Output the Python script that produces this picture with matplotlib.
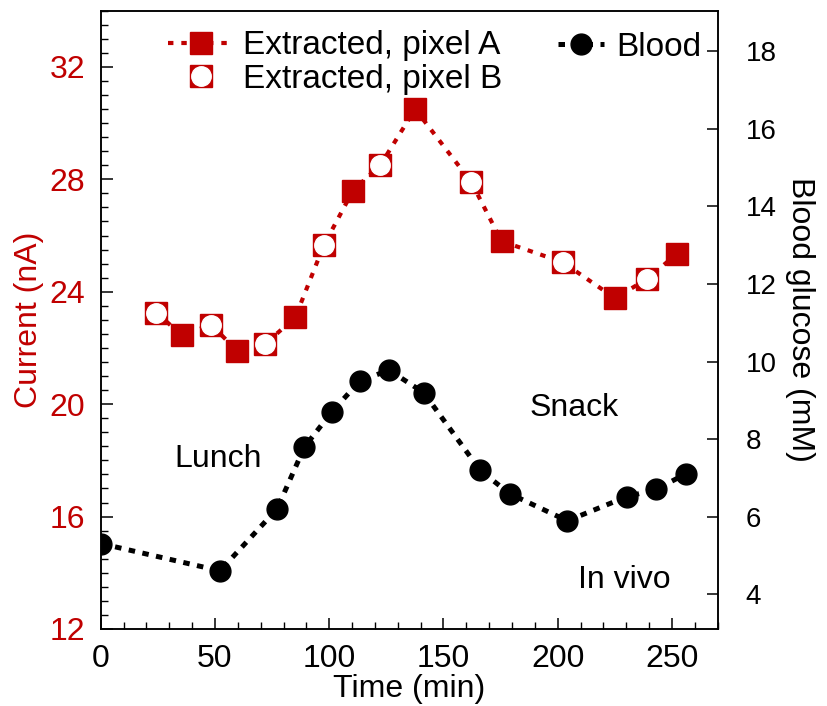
import numpy as np
import matplotlib.pyplot as plt
from matplotlib.lines import Line2D
from matplotlib.ticker import MultipleLocator

plt.rcParams['font.family'] = ['Liberation Sans', 'DejaVu Sans']

RED = '#C00000'

# extracted current, pixel A (filled squares)
t_a = [35.4, 59.8, 85.2, 110.4, 137.6, 175.4, 225.1, 252.2]
cur_a = [22.46, 21.89, 23.1, 27.6, 30.5, 25.8, 23.77, 25.35]

# extracted current, pixel B (open markers)
t_b = [24.3, 48.4, 72.0, 97.6, 122.4, 162.2, 202.2, 239.0]
cur_b = [23.26, 22.82, 22.14, 25.65, 28.51, 27.9, 25.05, 24.45]

# blood glucose (mM)
t_blood = [0.3, 52.2, 77.2, 89.1, 101.1, 113.3, 126.1, 141.3, 166.1, 179.0, 204.2, 230.1, 243.0, 256.0]
glucose = [5.30, 4.6, 6.20, 7.79, 8.70, 9.49, 9.78, 9.2, 7.19, 6.59, 5.89, 6.51, 6.70, 7.10]

fig = plt.figure(figsize=(8.27, 7.06), dpi=100)
ax = fig.add_axes([0.1218, 0.1091, 0.746, 0.8757])
ax2 = ax.twinx()

# one dotted line through both pixels in time order
t_all = np.array(t_a + t_b)
c_all = np.array(cur_a + cur_b)
order = np.argsort(t_all)
ax.plot(t_all[order], c_all[order], color=RED, lw=3.0, dashes=(1.3, 1.9), zorder=2)
ax.plot(t_a, cur_a, 's', color=RED, ms=16.5, zorder=3)
ax.plot(t_b, cur_b, 's', color=RED, ms=16.5, zorder=3)
ax.plot(t_b, cur_b, 'o', color='white', mec='white', ms=14, zorder=4)

ax2.plot(t_blood, glucose, color='black', lw=3.6, dashes=(1.3, 1.5), zorder=2)
ax2.plot(t_blood, glucose, 'o', color='black', ms=15, zorder=3)

ax.set_xlim(0, 270)
ax.set_ylim(12, 34)
ax2.set_ylim(3.1, 19.05)

ax.xaxis.set_major_locator(MultipleLocator(50))
ax.xaxis.set_minor_locator(MultipleLocator(10))
ax.yaxis.set_major_locator(MultipleLocator(4))
ax.yaxis.set_minor_locator(MultipleLocator(0.5))
ax2.set_yticks(np.arange(4, 19, 2))

ax.tick_params(axis='x', which='major', direction='in', length=8, width=1.1, labelsize=23, pad=11)
ax.tick_params(axis='x', which='minor', direction='in', length=5, width=1.0)
ax.tick_params(axis='y', which='major', direction='in', length=8.5, width=1.1,
               labelsize=23, labelcolor=RED, pad=11)
ax.tick_params(axis='y', which='minor', direction='in', length=5, width=1.0)
ax.tick_params(top=False, right=False, which='both')
ax2.tick_params(axis='y', which='major', direction='in', length=8, width=1.1,
                labelsize=20, pad=20)
ax2.tick_params(axis='y', which='minor', right=False)

for a in (ax, ax2):
    for s in a.spines.values():
        s.set_linewidth(1.1)
        s.set_color('black')

ax.set_xlabel('Time (min)', fontsize=23, labelpad=0)
ax.set_ylabel('Current (nA)', fontsize=23, color=RED, labelpad=4)
ax2.set_ylabel('Blood glucose (mM)', fontsize=23, rotation=270, labelpad=28)

ax.text(51.4, 18.05, 'Lunch', fontsize=23, ha='center', va='center')
ax.text(207, 19.86, 'Snack', fontsize=23, ha='center', va='center')
ax.text(229, 13.74, 'In vivo', fontsize=23, ha='center', va='center')

# legends
h_a = Line2D([], [], color=RED, lw=3.0, dashes=(1.3, 1.9), marker='s', ms=16.5)
h_b_sq = Line2D([], [], color=RED, ls='none', marker='s', ms=16.5)
h_b_ci = Line2D([], [], color='white', ls='none', marker='o', ms=14)
leg1 = ax.legend([h_a, (h_b_sq, h_b_ci)], ['Extracted, pixel A', 'Extracted, pixel B'],
                 loc='upper left', bbox_to_anchor=(0.06, 1.017), frameon=False,
                 fontsize=24, handlelength=2.0, handletextpad=0.25, labelspacing=0.08)
h_bl = Line2D([], [], color='black', lw=3.6, dashes=(1.3, 1.5), marker='o', ms=15)
leg2 = ax2.legend([h_bl], ['Blood'], loc='upper right', bbox_to_anchor=(1.0, 0.993),
                  frameon=False, fontsize=24, handlelength=1.4, handletextpad=0.35,
                  borderaxespad=0.1)

fig.savefig('out.png', dpi=100)
